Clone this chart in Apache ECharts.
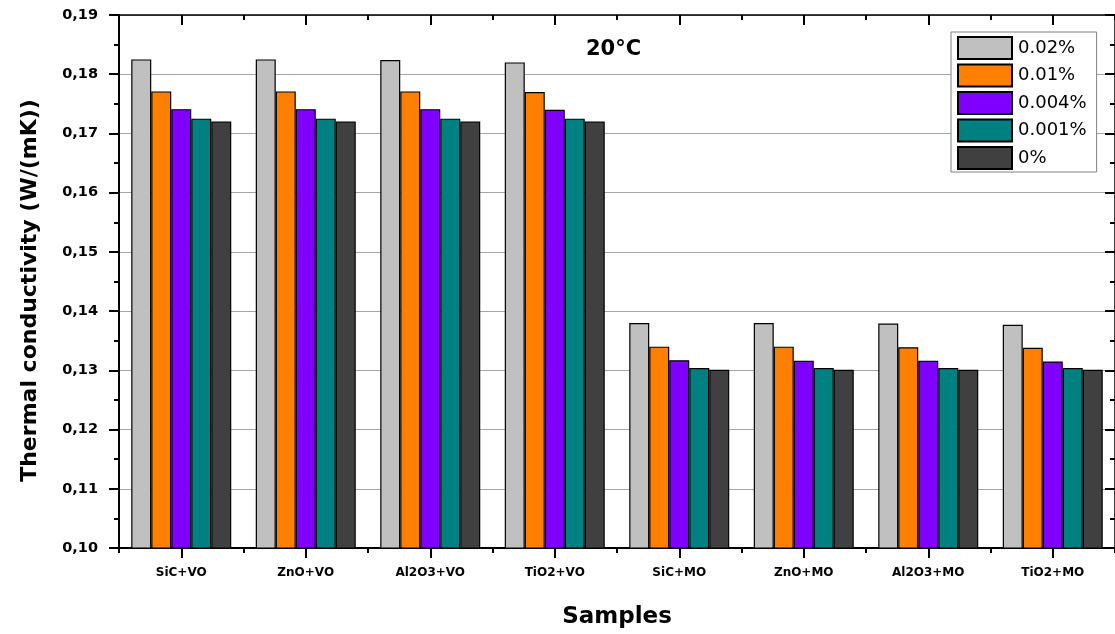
<!DOCTYPE html>
<html>
<head>
<meta charset="utf-8">
<script src="https://cdn.jsdelivr.net/npm/echarts@6/dist/echarts.min.js"></script>
<style>
html,body{margin:0;padding:0;background:#fff;overflow:hidden;width:1115px;height:634px;}
#chart{width:1115px;height:634px;}
</style>
</head>
<body>
<div id="chart"></div>
<script>
const categories = ['SiC+VO','ZnO+VO','Al2O3+VO','TiO2+VO','SiC+MO','ZnO+MO','Al2O3+MO','TiO2+MO'];
const seriesNames = ['0.02%','0.01%','0.004%','0.001%','0%'];
const s002  = [0.1825,0.1825,0.1824,0.1820,0.1380,0.1380,0.1379,0.1377];
const s001  = [0.1771,0.1771,0.1771,0.1770,0.1340,0.1340,0.1339,0.1338];
const s0004 = [0.1741,0.1741,0.1741,0.1740,0.1317,0.1316,0.1316,0.1315];
const s0001 = [0.1725,0.1725,0.1725,0.1725,0.1304,0.1304,0.1304,0.1304];
const s0    = [0.1720,0.1720,0.1720,0.1720,0.1301,0.1301,0.1301,0.1301];
const yTicks = {min:0.10, max:0.19, interval:0.01};
const colors = ['#C0C0C0','#FF8000','#8000FF','#008080','#404040'];
const values = [s002,s001,s0004,s0001,s0];

const chart = echarts.init(document.getElementById('chart'), null, {renderer:'canvas', width:1115, height:634});
const axisFont = 'DejaVu Sans';
function catAxis(pos, align, len, inside, showLabel, showLine, lw){
  return {
    type:'category', data:categories, position:pos,
    axisLine:{show:showLine, lineStyle:{color:'#000', width:lw}},
    axisTick:{show:true, alignWithLabel:align, length:len, inside:inside, lineStyle:{color:'#000', width:2}},
    axisLabel:{show:showLabel, color:'#000', fontFamily:axisFont, fontWeight:'bold', fontSize:12, margin:19},
    splitLine:{show:false}
  };
}
const xAxes = [
  Object.assign(catAxis('bottom', true, 10, false, true, true, 2), {
    name:'Samples', nameLocation:'middle', nameGap:58,
    nameTextStyle:{color:'#000', fontFamily:axisFont, fontWeight:'bold', fontSize:23}
  }),
  catAxis('bottom', false, 5, false, false, false, 2),
  catAxis('top', true, 10, true, false, true, 1.5),
  catAxis('top', false, 5, true, false, false, 1.5)
];
const fmt = v => v.toFixed(2).replace('.', ',');
const option = {
  animation:false,
  backgroundColor:'#fff',
  title:{
    text:'20°C', left:581, top:34,
    textStyle:{color:'#000', fontFamily:axisFont, fontWeight:'bold', fontSize:21}
  },
  legend:{
    orient:'vertical', left:951, top:32,
    itemWidth:54, itemHeight:22, itemGap:3.5,
    padding:[4,10,2,6],
    backgroundColor:'#fff', borderColor:'#808080', borderWidth:1,
    icon:'rect',
    textStyle:{color:'#000', fontFamily:axisFont, fontSize:18, padding:[0,0,0,1]},
    data:seriesNames
  },
  grid:{left:119, top:15, width:997, height:537, containLabel:false},
  xAxis:xAxes,
  yAxis:[
    {
      type:'value', position:'left', min:yTicks.min, max:yTicks.max, interval:yTicks.interval,
      name:'Thermal conductivity (W/(mK))', nameLocation:'middle', nameGap:78, nameRotate:90,
      nameTextStyle:{color:'#000', fontFamily:axisFont, fontWeight:'bold', fontSize:22, padding:[0,18,0,0]},
      axisLine:{show:true, lineStyle:{color:'#000', width:2}},
      axisTick:{show:true, length:10, lineStyle:{color:'#000', width:2}},
      minorTick:{show:true, splitNumber:2, length:5, lineStyle:{color:'#000', width:2}},
      axisLabel:{color:'#000', fontFamily:axisFont, fontWeight:'bold', fontSize:14.5, margin:21, formatter:fmt},
      splitLine:{show:true, lineStyle:{color:'#a6a6a6', width:1}}
    },
    {
      type:'value', position:'right', min:yTicks.min, max:yTicks.max, interval:yTicks.interval,
      axisLine:{show:true, lineStyle:{color:'#000', width:1.5}},
      axisTick:{show:true, inside:true, length:10, lineStyle:{color:'#000', width:2}},
      minorTick:{show:true, splitNumber:2, length:5, lineStyle:{color:'#000', width:2}},
      axisLabel:{show:false},
      splitLine:{show:false}
    }
  ],
  series: seriesNames.map((n,i)=>({
    name:n, type:'bar', xAxisIndex:0, yAxisIndex:0,
    data:values[i], barWidth:20, barGap:'0%',
    itemStyle:{color:colors[i], borderColor:'#000', borderWidth:1.2}
  }))
};
chart.setOption(option);
</script>
</body>
</html>
